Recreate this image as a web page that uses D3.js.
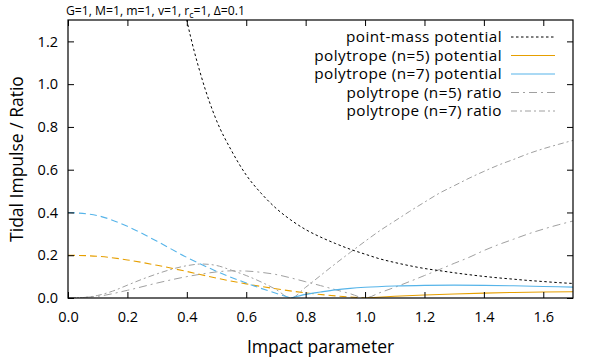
<!DOCTYPE html>
<html><head><meta charset="utf-8">
<script src="https://cdn.jsdelivr.net/npm/d3@7"></script>
<style>body{margin:0;background:#fff}svg{display:block}text{font-family:"Open Sans",sans-serif}</style>
</head><body>
<svg id="c" width="600" height="360"></svg>
<script>
// ---- data ----
const xTicks = [0.0,0.2,0.4,0.6,0.8,1.0,1.2,1.4,1.6];
const yTicks = [0.0,0.2,0.4,0.6,0.8,1.0,1.2];
const pointMass = [[0.38,1.44],[0.40,1.30],[0.45,1.03],[0.50,0.83],[0.55,0.69],[0.60,0.575],[0.65,0.49],[0.70,0.42],[0.75,0.365],[0.80,0.32],[0.85,0.285],[0.90,0.255],[0.95,0.228],[1.00,0.205],[1.05,0.183],[1.10,0.166],[1.15,0.151],[1.20,0.138],[1.25,0.128],[1.30,0.118],[1.35,0.109],[1.40,0.101],[1.45,0.094],[1.50,0.088],[1.55,0.082],[1.60,0.077],[1.65,0.072],[1.70,0.068]];
// signed impulse: negative part drawn dashed as |value|
const poly5 = [[0,-0.2],[0.1,-0.195],[0.2,-0.178],[0.3,-0.153],[0.4,-0.124],[0.5,-0.093],[0.6,-0.066],[0.7,-0.043],[0.8,-0.024],[0.9,-0.01],[1.0,0],[1.1,0.008],[1.2,0.014],[1.3,0.019],[1.4,0.023],[1.5,0.026],[1.6,0.028],[1.7,0.029]];
const poly7 = [[0,-0.40],[0.1,-0.385],[0.2,-0.335],[0.3,-0.265],[0.4,-0.19],[0.5,-0.125],[0.6,-0.07],[0.65,-0.045],[0.7,-0.022],[0.75,0],[0.8,0.017],[0.85,0.028],[0.9,0.038],[0.95,0.045],[1.0,0.05],[1.1,0.056],[1.2,0.059],[1.3,0.06],[1.4,0.059],[1.5,0.057],[1.6,0.054],[1.7,0.051]];
const ratio5 = [[0,0],[0.1,0.008],[0.2,0.036],[0.3,0.07],[0.4,0.1],[0.45,0.112],[0.5,0.122],[0.55,0.127],[0.6,0.126],[0.65,0.12],[0.7,0.11],[0.75,0.094],[0.8,0.076],[0.85,0.058],[0.9,0.039],[0.95,0.02],[1.0,0],[1.05,0.025],[1.1,0.05],[1.15,0.077],[1.2,0.105],[1.25,0.133],[1.3,0.162],[1.35,0.19],[1.4,0.222],[1.45,0.25],[1.5,0.275],[1.55,0.3],[1.6,0.322],[1.65,0.342],[1.7,0.36]];
const ratio7 = [[0,0],[0.05,0.002],[0.1,0.012],[0.15,0.032],[0.2,0.06],[0.25,0.088],[0.3,0.113],[0.35,0.135],[0.4,0.151],[0.45,0.159],[0.5,0.152],[0.55,0.13],[0.6,0.105],[0.65,0.075],[0.7,0.04],[0.75,0],[0.8,0.05],[0.85,0.105],[0.9,0.16],[0.95,0.213],[1.0,0.265],[1.05,0.315],[1.1,0.36],[1.15,0.405],[1.2,0.448],[1.25,0.49],[1.3,0.525],[1.35,0.56],[1.4,0.592],[1.45,0.622],[1.5,0.648],[1.55,0.675],[1.6,0.698],[1.65,0.718],[1.7,0.737]];
const legendLabels = ["point-mass potential","polytrope (n=5) potential","polytrope (n=7) potential","polytrope (n=5) ratio","polytrope (n=7) ratio"];

// ---- layout ----
const L=68,R=573,T=20,B=298;
const svg=d3.select("#c");
const x=d3.scaleLinear().domain([0,1.7]).range([L,R]);
const y=d3.scaleLinear().domain([0,1.3]).range([B,T]);

svg.append("clipPath").attr("id","clip").append("rect").attr("x",L).attr("y",T).attr("width",R-L).attr("height",B-T);

const styles=[
 {stroke:"#000",dash:"2.5,2.5",w:1},
 {stroke:"#e69f00",dash:null,w:1.1},
 {stroke:"#56b4e9",dash:null,w:1.1},
 {stroke:"#a0a0a0",dash:"8,4,2,4",w:1},
 {stroke:"#a0a0a0",dash:"6,3,2,3",w:1}
];

const line=d3.line().x(d=>x(d[0])).y(d=>y(Math.abs(d[1]))).curve(d3.curveMonotoneX);
const g=svg.append("g").attr("clip-path","url(#clip)");
function draw(data,st,dash){
  g.append("path").datum(data).attr("d",line).attr("fill","none")
   .attr("stroke",st.stroke).attr("stroke-width",st.w)
   .attr("stroke-dasharray",dash===undefined?st.dash:dash);
}
draw(ratio5,styles[3]);
draw(ratio7,styles[4]);
[[poly5,styles[1]],[poly7,styles[2]]].forEach(([d,st])=>{
  draw(d.filter(p=>p[1]<=0),st,"7,4");
  draw(d.filter(p=>p[1]>=0),st,null);
});
draw(pointMass,styles[0]);

// ---- axes ----
const ax=svg.append("g");
const tl=6;
const xa=d3.axisBottom(x).tickValues(xTicks).tickFormat(d3.format(".1f")).tickSizeInner(-tl).tickSizeOuter(0).tickPadding(14);
const xt=d3.axisTop(x).tickValues(xTicks).tickFormat("").tickSizeInner(-tl).tickSizeOuter(0);
const ya=d3.axisLeft(y).tickValues(yTicks).tickFormat(d3.format(".1f")).tickSizeInner(-tl).tickSizeOuter(0).tickPadding(10);
const yr=d3.axisRight(y).tickValues(yTicks).tickFormat("").tickSizeInner(-tl).tickSizeOuter(0);
[[xa,`translate(0,${B})`],[xt,`translate(0,${T})`],[ya,`translate(${L},0)`],[yr,`translate(${R},0)`]].forEach(([a,t])=>{
  const gg=ax.append("g").attr("transform",t).call(a);
  gg.select(".domain").remove();
  gg.selectAll("line").attr("stroke","#000");
  gg.selectAll("text").attr("font-size",14.5).attr("fill","#000").attr("font-family","Open Sans");
});
ax.append("rect").attr("x",L).attr("y",T).attr("width",R-L).attr("height",B-T).attr("fill","none").attr("stroke","#000").attr("stroke-width",1.2);

// ---- labels ----
svg.append("text").attr("x",(L+R)/2).attr("y",353).attr("text-anchor","middle").attr("font-size",17.5).text("Impact parameter");
svg.append("text").attr("transform",`translate(23,${(T+B)/2}) rotate(-90)`).attr("text-anchor","middle").attr("font-size",17.5).text("Tidal Impulse / Ratio");
const tt=svg.append("text").attr("x",66).attr("y",15).attr("font-size",12.2);
tt.append("tspan").text("G=1, M=1, m=1, v=1, r");
tt.append("tspan").attr("font-size",9).attr("dy",2.5).text("c");
tt.append("tspan").attr("dy",-2.5).text("=1, \u0394=0.1");

// ---- legend ----
const lg=svg.append("g");
legendLabels.forEach((lab,i)=>{
  const yy=37+i*18.5;
  lg.append("text").attr("x",502).attr("y",yy).attr("dy","0.35em").attr("text-anchor","end")
    .attr("font-family","Lato").attr("font-size",15.3).attr("letter-spacing",0.45).text(lab);
  lg.append("line").attr("x1",511).attr("x2",555).attr("y1",yy).attr("y2",yy)
    .attr("stroke",styles[i].stroke).attr("stroke-width",styles[i].w).attr("stroke-dasharray",styles[i].dash);
});
</script>
</body></html>
